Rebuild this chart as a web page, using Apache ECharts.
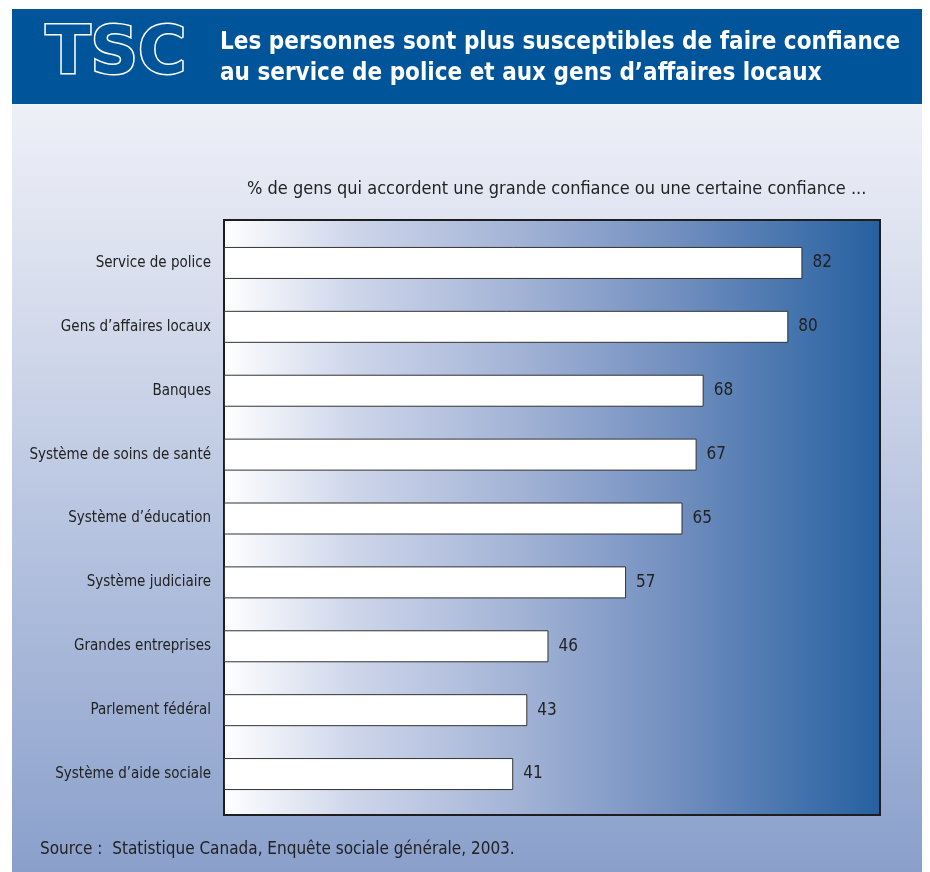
<!DOCTYPE html>
<html><head><meta charset="utf-8">
<script src="https://cdn.jsdelivr.net/npm/echarts@6/dist/echarts.min.js"></script>
<style>html,body{margin:0;padding:0;background:#fff}#c{width:930px;height:872px}</style>
</head><body><div id="c"></div>
<script>
const categories = ['Service de police', 'Gens d’affaires locaux', 'Banques', 'Système de soins de santé', 'Système d’éducation', 'Système judiciaire', 'Grandes entreprises', 'Parlement fédéral', 'Système d’aide sociale'];
const values = [82, 80, 68, 67, 65, 57, 46, 43, 41];
const headerLines = ['Les personnes sont plus susceptibles de faire confiance', 'au service de police et aux gens d’affaires locaux'];
const subtitle = '% de gens qui accordent une grande confiance ou une certaine confiance ...';
const sourceText = 'Source :  Statistique Canada, Enquête sociale générale, 2003.';

const FONT = '"Liberation Sans Narrow", "DejaVu Sans Condensed", "Roboto Condensed", sans-serif';
const chart = echarts.init(document.getElementById('c'), null, {renderer: 'canvas'});
const box = {left: 224, top: 220, width: 656, height: 595};
chart.setOption({
  animation: false,
  graphic: [
    {type: 'rect', z: -10, shape: {x: 12, y: 104, width: 910, height: 768},
      style: {fill: new echarts.graphic.LinearGradient(0, 0, 0, 1, [
        {offset: 0, color: '#EEF0F8'}, {offset: 0.2, color: '#DCE1EF'},
        {offset: 0.6, color: '#B2C0DE'}, {offset: 1, color: '#8AA0CB'}])}},
    {type: 'rect', z: -10, shape: {x: 12, y: 9, width: 910, height: 95}, style: {fill: '#00559A'}},
    {type: 'text', left: 44, top: 21, z: 10,
      style: {text: 'TSC', font: 'bold 66px "DejaVu Sans", sans-serif', fill: '#00559A', stroke: '#FFFFFF', lineWidth: 3}},
    {type: 'text', left: 220, top: 27, z: 10,
      style: {text: headerLines.join('\n'), font: 'bold 24px ' + FONT, fill: '#FFFFFF', lineHeight: 31}},
    {type: 'text', left: 247, top: 180, z: 10,
      style: {text: subtitle, font: '18px ' + FONT, fill: '#222222'}},
    {type: 'text', left: 40, top: 841, z: 10,
      style: {text: sourceText, font: '17px ' + FONT, fill: '#222222'}}
  ],
  grid: [
    {left: box.left, top: box.top, width: box.width, height: box.height, show: true,
      borderColor: '#1E1E1E', borderWidth: 2,
      backgroundColor: new echarts.graphic.LinearGradient(0, 0, 1, 0, [
        {offset: 0, color: '#FFFFFF'}, {offset: 0.2, color: '#CDD5EA'},
        {offset: 0.45, color: '#A3B3D6'}, {offset: 0.7, color: '#6F8DBE'},
        {offset: 1, color: '#2560A0'}])},
    {left: box.left, top: 231, width: box.width, height: 575}
  ],
  xAxis: [
    {gridIndex: 0, type: 'value', min: 0, max: 93, show: false},
    {gridIndex: 1, type: 'value', min: 0, max: 93, show: false}
  ],
  yAxis: [
    {gridIndex: 0, type: 'category', data: categories, show: false},
    {gridIndex: 1, type: 'category', data: categories, inverse: true,
      axisLine: {show: false}, axisTick: {show: false},
      axisLabel: {margin: 13, fontFamily: FONT, fontSize: 15, color: '#222222'}}
  ],
  series: [{
    type: 'bar', xAxisIndex: 1, yAxisIndex: 1, data: values, barWidth: 32,
    itemStyle: {color: '#FFFFFF', borderColor: '#333333', borderWidth: 1},
    label: {show: true, position: 'right', distance: 10, fontFamily: FONT, fontSize: 17, color: '#222222'}
  }]
});
</script></body></html>
